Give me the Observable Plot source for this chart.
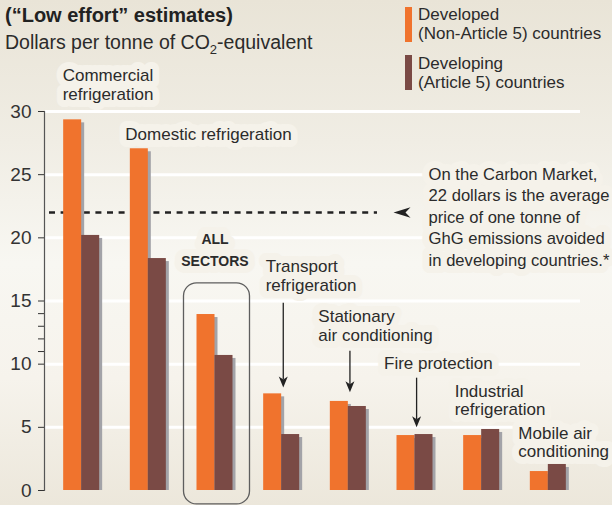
<!DOCTYPE html>
<html>
<head>
<meta charset="utf-8">
<script src="https://cdn.jsdelivr.net/npm/d3@7"></script>
<script src="https://cdn.jsdelivr.net/npm/@observablehq/plot@0.6"></script>
<style>
  html, body { margin: 0; padding: 0; }
  body {
    width: 612px; height: 505px; overflow: hidden; position: relative;
    font-family: "Liberation Sans", Arial, sans-serif; color: #2b2b2b;
    background: linear-gradient(180deg, #e9e4d7 0%, #f0ede4 28%, #f8f7f2 52%, #f6f3ec 75%, #ece7db 100%);
  }
  #chart { position: absolute; left: 0; top: 0; }
  .abs { position: absolute; white-space: nowrap; }
  #title { left: 5px; top: 5px; font-weight: bold; font-size: 20px; line-height: 20px; color: #222; }
  #subtitle { left: 5px; top: 33px; font-size: 19.5px; line-height: 19.5px; }
  #subtitle .sub { font-size: 13px; position: relative; top: 5px; }
  .sw { position: absolute; width: 7px; }
  .lg { font-size: 17px; line-height: 19.5px; }
</style>
</head>
<body>
<div id="chart"></div>
<div id="title" class="abs">(“Low effort” estimates)</div>
<div id="subtitle" class="abs">Dollars per tonne of CO<span class="sub">2</span>-equivalent</div>
<div id="legend"></div>
<script>
// ---- data ----
const sectors = [
  "Commercial refrigeration",
  "Domestic refrigeration",
  "All sectors",
  "Transport refrigeration",
  "Stationary air conditioning",
  "Fire protection",
  "Industrial refrigeration",
  "Mobile air conditioning"
];
const sectorLabels = [
  "Commercial\nrefrigeration",
  "Domestic refrigeration",
  "ALL\nSECTORS",
  "Transport\nrefrigeration",
  "Stationary\nair conditioning",
  "Fire protection",
  "Industrial\nrefrigeration",
  "Mobile air\nconditioning"
];
const developed  = [29.34, 27.05, 13.93, 7.65, 7.05, 4.35, 4.35, 1.5];
const developing = [20.19, 18.36, 10.69, 4.43, 6.65, 4.43, 4.83, 2.06];
const seriesNames = ["Developed\n(Non-Article 5) countries", "Developing\n(Article 5) countries"];
const seriesColors = ["#f0732d", "#7a4a45"];
const yTicks = [0, 5, 10, 11, 12, 13, 14, 15, 20, 25, 30];
const gridValues = [5, 10, 15, 20, 25, 30];
const carbonPrice = 22;
const noteText = "On the Carbon Market,\n22 dollars is the average\nprice of one tonne of\nGhG emissions avoided\nin developing countries.*";
const arrowSectors = ["Transport refrigeration", "Stationary air conditioning", "Fire protection"];
const arrowFrom = [14.83, 11.03, 8.89];
const arrowTo = [8.15, 7.78, 5.01];

// ---- annotation layout (label placement) ----
const labelTop = [33.48, 28.81, 20.75, 18.34, 14.38, 10.69, 8.49, 5.15];
const labelDx  = [-19, -23, 0, -16, -30, -31, -27, -30];

// ---- legend (HTML) ----
const legend = document.getElementById("legend");
const legendTop = [7, 55];
const legendTextTop = [4.9, 53.9];
seriesNames.forEach((name, i) => {
  const sw = document.createElement("div");
  sw.className = "sw";
  sw.style.left = "405px"; sw.style.top = legendTop[i] + "px";
  sw.style.height = "34.5px"; sw.style.background = seriesColors[i];
  legend.append(sw);
  const t = document.createElement("div");
  t.className = "abs lg";
  t.style.left = "418px"; t.style.top = legendTextTop[i] + "px";
  t.innerHTML = name.replace("\n", "<br>");
  legend.append(t);
});

// ---- chart ----
const rows = sectors.map((s, i) => ({sector: s, developed: developed[i], developing: developing[i]}));
const halo = "#f5f2ea";
const ink = "#2b2b2b";

const downHead = {draw(ctx) { ctx.moveTo(0, 0); ctx.lineTo(4.5, -11); ctx.lineTo(0, -8); ctx.lineTo(-4.5, -11); ctx.closePath(); }};
const bigHead = {draw(ctx) { ctx.moveTo(0, 0); ctx.lineTo(5.2, -17); ctx.lineTo(0, -12); ctx.lineTo(-5.2, -17); ctx.closePath(); }};

function labelOpts(i, paint) {
  return {
    x: (j) => sectors[j],
    y: (j) => labelTop[j],
    text: (j) => sectorLabels[j],
    dx: labelDx[i],
    textAnchor: i === 2 ? "middle" : "start",
    lineAnchor: "top",
    lineHeight: i === 2 ? 1.57 : 1.1,
    fontSize: i === 2 ? 14 : 17,
    fontWeight: i === 2 ? "bold" : "normal",
    ...paint
  };
}
const haloPaint = {fill: "none", stroke: halo, strokeWidth: 14, strokeLinejoin: "round"};
const inkPaint = {fill: ink};
const labelHalos = sectors.map((s, i) => Plot.text([i], labelOpts(i, haloPaint)));
const labelInks = sectors.map((s, i) => Plot.text([i], labelOpts(i, inkPaint)));
const noteOpts = (paint) => ({
  x: () => "Fire protection", y: () => 25.81, text: (d) => d, dx: 13.6,
  textAnchor: "start", lineAnchor: "top", lineHeight: 1.3, fontSize: 16.6, ...paint
});

const plot = Plot.plot({
  width: 612,
  height: 505,
  marginTop: 111,
  marginBottom: 15,
  marginLeft: 44,
  marginRight: 27,
  x: {domain: sectors, paddingInner: 0.46, paddingOuter: 0.2875, align: 0.5, round: false, axis: null},
  y: {domain: [0, 30], axis: null},
  style: {background: "transparent", fontFamily: "'Liberation Sans', Arial, sans-serif", overflow: "visible"},
  marks: [
    Plot.ruleY(gridValues, {stroke: "white", strokeWidth: 3, insetLeft: 1, insetRight: 5}),
    Plot.ruleY([carbonPrice], {stroke: "#222", strokeWidth: 2.5, strokeDasharray: "6,5.6", insetLeft: 5, insetRight: 208}),
    Plot.dot([carbonPrice], {y: (d) => d, frameAnchor: "left", dx: 349, symbol: bigHead, rotate: 90, fill: "#222", stroke: "none", r: 5}),
    ...labelHalos,
    Plot.text([noteText], noteOpts(haloPaint)),
    ...labelInks,
    Plot.text([noteText], noteOpts(inkPaint)),
    // shadows
    Plot.barY(rows, {x: "sector", y: "developed", fill: "#a3a3a8", insetRight: 18, insetTop: 3, dx: 3}),
    Plot.barY(rows, {x: "sector", y: "developing", fill: "#a3a3a8", insetLeft: 18, insetTop: 3, dx: 3}),
    // bars
    Plot.barY(rows, {x: "sector", y: "developed", fill: seriesColors[0], insetRight: 18}),
    Plot.barY(rows, {x: "sector", y: "developing", fill: seriesColors[1], insetLeft: 18}),
    // all-sectors frame
    Plot.barY(["All sectors"], {x: (d) => d, y1: () => -1.1, y2: () => 16.4, fill: "none", stroke: "#5e5e5e", strokeWidth: 1.3, rx: 13, insetLeft: -13, insetRight: -17}),
    // pointer arrows
    Plot.ruleX(arrowSectors.map((s, i) => i), {x: (i) => arrowSectors[i], y1: (i) => arrowFrom[i], y2: (i) => arrowTo[i] + 0.6, stroke: "#222", strokeWidth: 1.3, dx: 1.6}),
    Plot.dot(arrowSectors.map((s, i) => i), {x: (i) => arrowSectors[i], y: (i) => arrowTo[i], symbol: downHead, fill: "#222", stroke: "none", dx: 1.6, r: 5}),
    // axis
    Plot.axisY({ticks: yTicks, tickFormat: (d) => (d % 5 === 0 ? String(d) : ""), tickSize: 6, tickPadding: 7, fontSize: 19, color: "#333", label: null}),
    Plot.frame({anchor: "left", stroke: "#555", strokeWidth: 1.2})
  ]
});
document.getElementById("chart").append(plot);
</script>
</body>
</html>
